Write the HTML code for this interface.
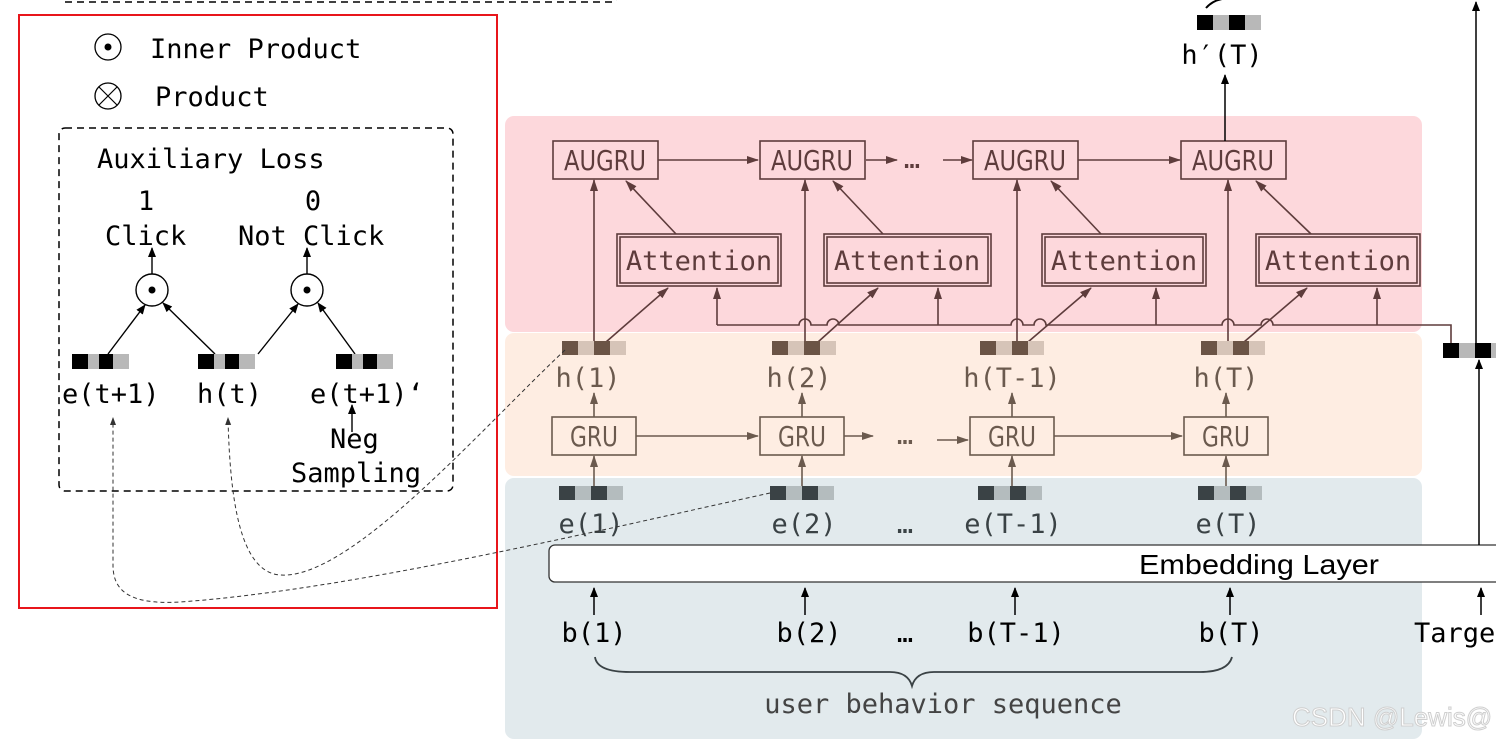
<!DOCTYPE html>
<html><head><meta charset="utf-8"><style>
html,body{margin:0;padding:0;background:#fff;}
svg{display:block;}
.m{font-family:"DejaVu Sans Mono","Liberation Mono",monospace;font-size:27px;}
.n{font-family:"DejaVu Sans Condensed","Liberation Sans",sans-serif;font-size:28px;}
</style></head><body>
<svg width="1496" height="742" viewBox="0 0 1496 742" xmlns="http://www.w3.org/2000/svg">
<defs>
<marker id="ab" markerWidth="10" markerHeight="10" refX="9" refY="5" orient="auto" markerUnits="userSpaceOnUse"><path d="M0,1 L10,5 L0,9 z" fill="#000"/></marker>
<marker id="ar" markerWidth="12" markerHeight="10" refX="11" refY="5" orient="auto" markerUnits="userSpaceOnUse"><path d="M0,1 L12,5 L0,9 z" fill="#5e3c3c"/></marker>
<marker id="ag" markerWidth="12" markerHeight="10" refX="11" refY="5" orient="auto" markerUnits="userSpaceOnUse"><path d="M0,1 L12,5 L0,9 z" fill="#6b5a4e"/></marker>
<marker id="ad" markerWidth="8" markerHeight="8" refX="7" refY="4" orient="auto" markerUnits="userSpaceOnUse"><path d="M0,1 L8,4 L0,7 z" fill="#333"/></marker>
</defs>

<path d="M65,2 L612,2 Q617,2 617,-4" fill="none" stroke="#000" stroke-width="1.5" stroke-dasharray="7,5"/>

<rect x="505" y="116" width="917" height="216" rx="9" fill="#fdd8dc"/>
<rect x="505" y="333" width="917" height="143" rx="9" fill="#feede2"/>
<rect x="505" y="478" width="917" height="261" rx="9" fill="#e2eaed"/>

<g fill="none" stroke="#5e3c3c" stroke-width="1.6">
<rect x="553" y="141" width="105" height="38"/>
<rect x="760" y="141" width="105" height="38"/>
<rect x="973" y="141" width="105" height="38"/>
<rect x="1181" y="141" width="105" height="38"/>
<rect x="617" y="234" width="164" height="52"/><rect x="620" y="237" width="158" height="46"/>
<rect x="824" y="234" width="167" height="52"/><rect x="827" y="237" width="161" height="46"/>
<rect x="1042" y="234" width="164" height="52"/><rect x="1045" y="237" width="158" height="46"/>
<rect x="1256" y="234" width="164" height="52"/><rect x="1259" y="237" width="158" height="46"/>
<line x1="658" y1="160" x2="758" y2="160" marker-end="url(#ar)"/>
<line x1="866" y1="160" x2="897" y2="160" marker-end="url(#ar)"/>
<line x1="943" y1="160" x2="972" y2="160" marker-end="url(#ar)"/>
<line x1="1078" y1="160" x2="1180" y2="160" marker-end="url(#ar)"/>
<line x1="594" y1="345" x2="594" y2="180" marker-end="url(#ar)"/>
<line x1="805" y1="345" x2="805" y2="180" marker-end="url(#ar)"/>
<line x1="1017" y1="345" x2="1017" y2="180" marker-end="url(#ar)"/>
<line x1="1228" y1="345" x2="1228" y2="180" marker-end="url(#ar)"/>
<line x1="676" y1="234" x2="626" y2="181" marker-end="url(#ar)"/>
<line x1="883" y1="234" x2="833" y2="181" marker-end="url(#ar)"/>
<line x1="1101" y1="234" x2="1051" y2="181" marker-end="url(#ar)"/>
<line x1="1311" y1="234" x2="1256" y2="181" marker-end="url(#ar)"/>
<line x1="606" y1="342" x2="668" y2="288" marker-end="url(#ar)"/>
<line x1="818" y1="342" x2="878" y2="288" marker-end="url(#ar)"/>
<line x1="1028" y1="342" x2="1091" y2="288" marker-end="url(#ar)"/>
<line x1="1244" y1="342" x2="1307" y2="288" marker-end="url(#ar)"/>
<path d="M717,325 L799,325 a6,6 0 0 1 12,0 L827,325 a6,6 0 0 1 12,0 L1011,325 a6,6 0 0 1 12,0 L1034,325 a6,6 0 0 1 12,0 L1222,325 a6,6 0 0 1 12,0 L1261,325 a6,6 0 0 1 12,0 L1451,325 L1451,345"/>
<line x1="717" y1="325" x2="717" y2="288" marker-end="url(#ar)"/>
<line x1="938" y1="325" x2="938" y2="288" marker-end="url(#ar)"/>
<line x1="1156" y1="325" x2="1156" y2="288" marker-end="url(#ar)"/>
<line x1="1377" y1="325" x2="1377" y2="288" marker-end="url(#ar)"/>
</g>
<g fill="#5e3c3c">
<text class="n" x="605" y="170" text-anchor="middle" textLength="82" lengthAdjust="spacingAndGlyphs">AUGRU</text>
<text class="n" x="812" y="170" text-anchor="middle" textLength="82" lengthAdjust="spacingAndGlyphs">AUGRU</text>
<text class="n" x="1025" y="170" text-anchor="middle" textLength="82" lengthAdjust="spacingAndGlyphs">AUGRU</text>
<text class="n" x="1233" y="170" text-anchor="middle" textLength="82" lengthAdjust="spacingAndGlyphs">AUGRU</text>
<text class="m" x="912" y="168" font-size="20" text-anchor="middle">…</text>
<text class="m" x="699" y="270" text-anchor="middle">Attention</text>
<text class="m" x="907" y="270" text-anchor="middle">Attention</text>
<text class="m" x="1124" y="270" text-anchor="middle">Attention</text>
<text class="m" x="1338" y="270" text-anchor="middle">Attention</text>
</g>

<g>
<rect x="562" y="341" width="16" height="14" fill="#6b5446"/><rect x="578" y="341" width="16" height="14" fill="#d6c4b8"/><rect x="594" y="341" width="16" height="14" fill="#6b5446"/><rect x="610" y="341" width="16" height="14" fill="#d6c4b8"/>
<rect x="772" y="341" width="16" height="14" fill="#6b5446"/><rect x="788" y="341" width="16" height="14" fill="#d6c4b8"/><rect x="804" y="341" width="16" height="14" fill="#6b5446"/><rect x="820" y="341" width="16" height="14" fill="#d6c4b8"/>
<rect x="980" y="341" width="16" height="14" fill="#6b5446"/><rect x="996" y="341" width="16" height="14" fill="#d6c4b8"/><rect x="1012" y="341" width="16" height="14" fill="#6b5446"/><rect x="1028" y="341" width="16" height="14" fill="#d6c4b8"/>
<rect x="1201" y="341" width="16" height="14" fill="#6b5446"/><rect x="1217" y="341" width="16" height="14" fill="#d6c4b8"/><rect x="1233" y="341" width="16" height="14" fill="#6b5446"/><rect x="1249" y="341" width="16" height="14" fill="#d6c4b8"/>
</g>
<g fill="#6b5a4e">
<text class="m" x="588" y="387" text-anchor="middle">h(1)</text>
<text class="m" x="799" y="387" text-anchor="middle">h(2)</text>
<text class="m" x="1012" y="387" text-anchor="middle">h(T-1)</text>
<text class="m" x="1226" y="387" text-anchor="middle">h(T)</text>
</g>

<g fill="none" stroke="#6b5a4e" stroke-width="1.6">
<rect x="552" y="417" width="84" height="38"/>
<rect x="760" y="417" width="84" height="38"/>
<rect x="970" y="417" width="84" height="38"/>
<rect x="1184" y="417" width="84" height="38"/>
<line x1="636" y1="436" x2="758" y2="436" marker-end="url(#ag)"/>
<line x1="844" y1="436" x2="873" y2="436" marker-end="url(#ag)"/>
<line x1="937" y1="440" x2="968" y2="440" marker-end="url(#ag)"/>
<line x1="1054" y1="436" x2="1182" y2="436" marker-end="url(#ag)"/>
<line x1="594" y1="417" x2="594" y2="393" marker-end="url(#ag)"/>
<line x1="802" y1="417" x2="802" y2="393" marker-end="url(#ag)"/>
<line x1="1012" y1="417" x2="1012" y2="393" marker-end="url(#ag)"/>
<line x1="1226" y1="417" x2="1226" y2="393" marker-end="url(#ag)"/>
<line x1="594" y1="490" x2="594" y2="456" marker-end="url(#ag)"/>
<line x1="802" y1="490" x2="802" y2="456" marker-end="url(#ag)"/>
<line x1="1012" y1="490" x2="1012" y2="456" marker-end="url(#ag)"/>
<line x1="1226" y1="490" x2="1226" y2="456" marker-end="url(#ag)"/>
</g>
<g fill="#6b5a4e">
<text class="n" x="594" y="446" text-anchor="middle" textLength="48" lengthAdjust="spacingAndGlyphs">GRU</text>
<text class="n" x="802" y="446" text-anchor="middle" textLength="48" lengthAdjust="spacingAndGlyphs">GRU</text>
<text class="n" x="1012" y="446" text-anchor="middle" textLength="48" lengthAdjust="spacingAndGlyphs">GRU</text>
<text class="n" x="1226" y="446" text-anchor="middle" textLength="48" lengthAdjust="spacingAndGlyphs">GRU</text>
<text class="m" x="905" y="444" font-size="20" text-anchor="middle">…</text>
</g>

<g>
<rect x="559" y="486" width="16" height="14" fill="#3a4245"/><rect x="575" y="486" width="16" height="14" fill="#b4bcbe"/><rect x="591" y="486" width="16" height="14" fill="#3a4245"/><rect x="607" y="486" width="16" height="14" fill="#b4bcbe"/>
<rect x="770" y="486" width="16" height="14" fill="#3a4245"/><rect x="786" y="486" width="16" height="14" fill="#b4bcbe"/><rect x="802" y="486" width="16" height="14" fill="#3a4245"/><rect x="818" y="486" width="16" height="14" fill="#b4bcbe"/>
<rect x="978" y="486" width="16" height="14" fill="#3a4245"/><rect x="994" y="486" width="16" height="14" fill="#b4bcbe"/><rect x="1010" y="486" width="16" height="14" fill="#3a4245"/><rect x="1026" y="486" width="16" height="14" fill="#b4bcbe"/>
<rect x="1198" y="486" width="16" height="14" fill="#3a4245"/><rect x="1214" y="486" width="16" height="14" fill="#b4bcbe"/><rect x="1230" y="486" width="16" height="14" fill="#3a4245"/><rect x="1246" y="486" width="16" height="14" fill="#b4bcbe"/>
</g>
<g fill="#3a4245">
<text class="m" x="591" y="533" text-anchor="middle">e(1)</text>
<text class="m" x="804" y="533" text-anchor="middle">e(2)</text>
<text class="m" x="1013" y="533" text-anchor="middle">e(T-1)</text>
<text class="m" x="1228" y="533" text-anchor="middle">e(T)</text>
<text class="m" x="905" y="533" font-size="20" text-anchor="middle">…</text>
</g>

<rect x="549" y="545" width="970" height="37" rx="6" fill="#fff" stroke="#333" stroke-width="1.3"/>
<text x="1259" y="574" text-anchor="middle" font-family="Liberation Sans, sans-serif" font-size="28" textLength="240" lengthAdjust="spacingAndGlyphs" fill="#000">Embedding Layer</text>

<g stroke="#000" stroke-width="1.5" fill="none">
<line x1="594" y1="615" x2="594" y2="588" marker-end="url(#ab)"/>
<line x1="805" y1="615" x2="805" y2="588" marker-end="url(#ab)"/>
<line x1="1015" y1="615" x2="1015" y2="588" marker-end="url(#ab)"/>
<line x1="1230" y1="615" x2="1230" y2="588" marker-end="url(#ab)"/>
<line x1="1481" y1="615" x2="1481" y2="588" marker-end="url(#ab)"/>
<line x1="1479" y1="545" x2="1479" y2="360" marker-end="url(#ab)"/>
<line x1="1476" y1="345" x2="1476" y2="2" marker-end="url(#ab)"/>
<line x1="1225" y1="141" x2="1225" y2="75" marker-end="url(#ab)"/>
</g>
<g fill="#000">
<text class="m" x="594" y="642" text-anchor="middle">b(1)</text>
<text class="m" x="809" y="642" text-anchor="middle">b(2)</text>
<text class="m" x="1016" y="642" text-anchor="middle">b(T-1)</text>
<text class="m" x="1231" y="642" text-anchor="middle">b(T)</text>
<text class="m" x="905" y="642" font-size="20" text-anchor="middle">…</text>
<text class="m" x="1414" y="642">Target</text>
</g>
<path d="M595,657 Q597,672 630,672 L890,672 Q908,672 912,686 Q916,672 934,672 L1200,672 Q1228,672 1232,657" fill="none" stroke="#3a4245" stroke-width="1.8"/>
<text class="m" x="943" y="713" text-anchor="middle" fill="#444">user behavior sequence</text>
<text x="1292" y="726" font-family="Liberation Sans, sans-serif" font-size="26" fill="#fff" stroke="#cfcfcf" stroke-width="1">CSDN @Lewis@</text>

<rect x="1443" y="343" width="16" height="15" fill="#000"/><rect x="1459" y="343" width="16" height="15" fill="#b8b8b8"/><rect x="1475" y="343" width="16" height="15" fill="#000"/><rect x="1491" y="343" width="16" height="15" fill="#b8b8b8"/>
<rect x="1197" y="15" width="16" height="15" fill="#000"/><rect x="1213" y="15" width="16" height="15" fill="#b8b8b8"/><rect x="1229" y="15" width="16" height="15" fill="#000"/><rect x="1245" y="15" width="16" height="15" fill="#b8b8b8"/>
<path d="M1206,8 Q1212,1 1222,-1" fill="none" stroke="#000" stroke-width="2"/>
<text class="m" x="1222" y="64" text-anchor="middle">h′(T)</text>

<rect x="19" y="15" width="478" height="593" fill="none" stroke="#e8151b" stroke-width="2"/>
<circle cx="108" cy="47" r="13" fill="none" stroke="#000" stroke-width="1.3"/><circle cx="108" cy="47" r="3.5" fill="#000"/>
<text class="m" x="150" y="58">Inner Product</text>
<circle cx="108" cy="96" r="13" fill="none" stroke="#000" stroke-width="1.3"/>
<path d="M99,87 L117,105 M117,87 L99,105" stroke="#000" stroke-width="1.2"/>
<text class="m" x="155" y="106">Product</text>
<rect x="59" y="128" width="394" height="363" rx="6" fill="none" stroke="#000" stroke-width="1.5" stroke-dasharray="7,5"/>
<text class="m" x="97" y="168">Auxiliary Loss</text>
<text class="m" x="146" y="210" text-anchor="middle">1</text>
<text class="m" x="313" y="210" text-anchor="middle">0</text>
<text class="m" x="105" y="245">Click</text>
<text class="m" x="238" y="245">Not Click</text>
<g stroke="#000" stroke-width="1.4" fill="none">
<circle cx="152" cy="290" r="16"/><circle cx="307" cy="290" r="16"/>
<line x1="152" y1="274" x2="152" y2="248" marker-end="url(#ab)"/>
<line x1="307" y1="274" x2="307" y2="248" marker-end="url(#ab)"/>
<line x1="108" y1="354" x2="145" y2="305" marker-end="url(#ab)"/>
<line x1="215" y1="354" x2="163" y2="303" marker-end="url(#ab)"/>
<line x1="258" y1="354" x2="298" y2="304" marker-end="url(#ab)"/>
<line x1="355" y1="354" x2="318" y2="303" marker-end="url(#ab)"/>
<line x1="352" y1="432" x2="352" y2="405" marker-end="url(#ab)"/>
</g>
<circle cx="152" cy="290" r="3.5"/><circle cx="307" cy="290" r="3.5"/>
<rect x="72" y="354" width="16" height="15" fill="#000"/><rect x="88" y="354" width="11" height="15" fill="#b8b8b8"/><rect x="99" y="354" width="14" height="15" fill="#000"/><rect x="113" y="354" width="16" height="15" fill="#b8b8b8"/>
<rect x="198" y="354" width="16" height="15" fill="#000"/><rect x="214" y="354" width="11" height="15" fill="#b8b8b8"/><rect x="225" y="354" width="14" height="15" fill="#000"/><rect x="239" y="354" width="16" height="15" fill="#b8b8b8"/>
<rect x="336" y="354" width="16" height="15" fill="#000"/><rect x="352" y="354" width="11" height="15" fill="#b8b8b8"/><rect x="363" y="354" width="14" height="15" fill="#000"/><rect x="377" y="354" width="16" height="15" fill="#b8b8b8"/>
<text class="m" x="62" y="403">e(t+1)</text>
<text class="m" x="197" y="403">h(t)</text>
<text class="m" x="310" y="403">e(t+1)‘</text>
<text class="m" x="330" y="448">Neg</text>
<text class="m" x="291" y="482">Sampling</text>

<g fill="none" stroke="#333" stroke-width="1" stroke-dasharray="4,3">
<path d="M770,493 C600,530 350,590 180,602 C128,605 113,590 113,565 L113,418" marker-end="url(#ad)"/>
<path d="M565,350 C480,430 350,580 280,575 C240,572 230,500 228,418" marker-end="url(#ad)"/>
</g>
</svg>
</body></html>
